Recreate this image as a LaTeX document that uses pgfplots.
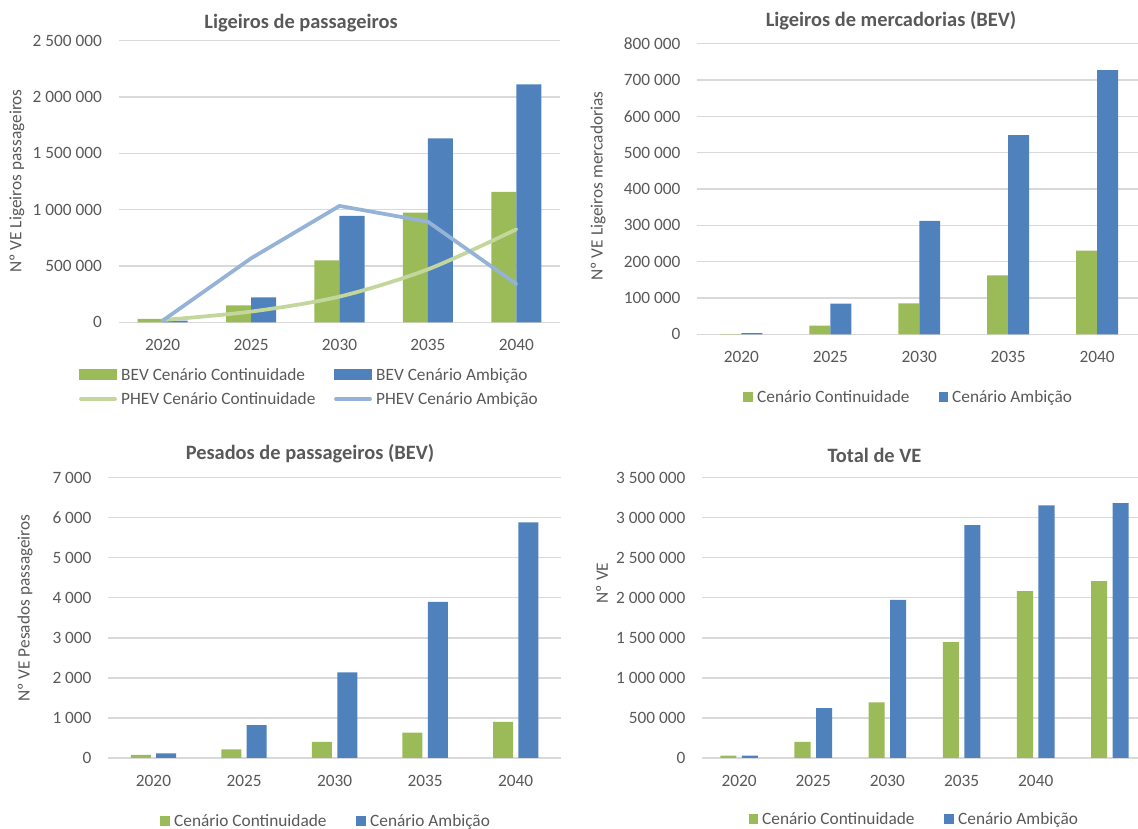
\documentclass[border=0pt]{standalone}
\usepackage{fontspec}
\setmainfont{Carlito}
\usepackage{pgfplots}
\pgfplotsset{compat=1.18}
\definecolor{txt}{HTML}{595959}
\definecolor{gridc}{HTML}{D9D9D9}
\definecolor{bgreen}{HTML}{9BBB59}
\definecolor{bblue}{HTML}{4F81BD}
\definecolor{lgreen}{HTML}{C3D69B}
\definecolor{lblue}{HTML}{95B3D7}
\newcommand{\fs}{\fontsize{17.3}{20}\selectfont}
\newcommand{\ft}{\fontsize{20.4}{24}\selectfont\bfseries}
\pgfplotsset{
  evstyle/.style={
    scale only axis,
    axis line style={draw=none},
    ymajorgrids, grid style={gridc, line width=1.3pt},
    tick style={draw=none},
    ymin=0, xmin=-0.5,
    tick label style={font=\fs, text=txt},
    yticklabel style={anchor=east, inner sep=0pt, xshift=-16.5pt},
    xticklabel style={anchor=base, inner sep=0pt, yshift=-28.5pt},
    scaled y ticks=false,
    yticklabel={\pgfmathprintnumber[fixed,1000 sep={\ },assume math mode=true]{\tick}},
    title style={font=\ft, text=txt, anchor=center},
    ylabel style={font=\fs, text=txt, anchor=center},
  },
}
\begin{document}
\begin{tikzpicture}
\useasboundingbox (0pt,0pt) rectangle (1138pt,829pt);

% ---------- Ligeiros de passageiros ----------
\begin{axis}[evstyle, at={(118.5pt,506.7pt)}, anchor=south west,
  width=442pt, height=281.6pt, xmax=4.5, ymax=2500000,
  ytick={0,500000,1000000,1500000,2000000,2500000},
  xtick={0,1,2,3,4}, xticklabels={2020,2025,2030,2035,2040},
  title={Ligeiros de passageiros},
  title style={at={(axis description cs:0.413,1.0398)}},
  ylabel={Nº VE Ligeiros passageiros},
  ylabel style={at={(axis description cs:-0.2296,0.5018)}}]
\addplot[ybar, fill=bgreen, draw=none, bar width=0.283, bar shift=-0.1415]
  coordinates {(0,30000) (1,151000) (2,550000) (3,973000) (4,1157000)};
\addplot[ybar, fill=bblue, draw=none, bar width=0.283, bar shift=0.1415]
  coordinates {(0,15000) (1,222000) (2,944000) (3,1633000) (4,2112000)};
\addplot[lgreen, line width=3.75pt, smooth, line cap=round]
  coordinates {(0,20000) (1,95000) (2,228000) (3,470000) (4,825000)};
\addplot[lblue, line width=3.75pt, line join=round, line cap=round]
  coordinates {(0,15000) (1,568000) (2,1033000) (3,893000) (4,340000)};
\end{axis}

% ---------- Ligeiros de mercadorias ----------
\begin{axis}[evstyle, at={(697pt,494.7pt)}, anchor=south west,
  width=444.5pt, height=290.6pt, xmax=4.5, ymax=800000,
  ytick={0,100000,...,800000},
  xtick={0,1,2,3,4}, xticklabels={2020,2025,2030,2035,2040},
  title={Ligeiros de mercadorias (BEV)},
  title style={at={(axis description cs:0.4364,1.0575)}},
  ylabel={Nº VE Ligeiros mercadorias},
  ylabel style={at={(axis description cs:-0.2227,0.5103)}}]
\addplot[ybar, fill=bgreen, draw=none, bar width=0.236, bar shift=-0.118]
  coordinates {(0,800) (1,23900) (2,85300) (3,162000) (4,230000)};
\addplot[ybar, fill=bblue, draw=none, bar width=0.236, bar shift=0.118]
  coordinates {(0,3000) (1,84400) (2,312000) (3,548000) (4,727000)};
\end{axis}

% ---------- Pesados de passageiros ----------
\begin{axis}[evstyle, at={(108.2pt,71pt)}, anchor=south west,
  width=452.8pt, height=280.3pt, xmax=4.5, ymax=7000,
  ytick={0,1000,...,7000},
  xtick={0,1,2,3,4}, xticklabels={2020,2025,2030,2035,2040},
  title={Pesados de passageiros (BEV)},
  title style={at={(axis description cs:0.4457,1.065)}},
  ylabel={Nº VE Pesados passageiros},
  ylabel style={at={(axis description cs:-0.1837,0.5351)}}]
\addplot[ybar, fill=bgreen, draw=none, bar width=0.221, bar shift=-0.14]
  coordinates {(0,75) (1,216) (2,400) (3,633) (4,899)};
\addplot[ybar, fill=bblue, draw=none, bar width=0.221, bar shift=0.14]
  coordinates {(0,117) (1,824) (2,2140) (3,3897) (4,5887)};
\end{axis}

% ---------- Total de VE ----------
\begin{axis}[evstyle, at={(702pt,71pt)}, anchor=south west,
  width=445pt, height=280.3pt, xmax=5.5, ymax=3500000,
  ytick={0,500000,1000000,1500000,2000000,2500000,3000000,3500000},
  xtick={0,1,2,3,4}, xticklabels={2020,2025,2030,2035,2040},
  title={Total de VE},
  title style={at={(axis description cs:0.3876,1.0596)}},
  ylabel={Nº VE},
  ylabel style={at={(axis description cs:-0.2247,0.6243)}}]
\addplot[ybar, fill=bgreen, draw=none, bar width=0.216, bar shift=-0.145]
  coordinates {(0,29000) (1,200000) (2,695000) (3,1448000) (4,2085000) (5,2210000)};
\addplot[ybar, fill=bblue, draw=none, bar width=0.216, bar shift=0.145]
  coordinates {(0,29000) (1,624000) (2,1973000) (3,2909000) (4,3154000) (5,3184000)};
\end{axis}

% ---------- legends ----------
\begin{scope}[x=1pt,y=1pt]
\tikzset{lt/.style={anchor=base west, inner sep=0pt, font=\fs, text=txt}}
% top-left
\fill[bgreen] (79,448.5) rectangle (117,459.5);
\node[lt] at (121,448.4) {BEV Cenário Continuidade};
\fill[bblue] (334,448.5) rectangle (372,459.5);
\node[lt] at (376,448.4) {BEV Cenário Ambição};
\draw[lgreen, line width=3.75pt, line cap=round] (81,430) -- (115,430);
\node[lt] at (121,424.4) {PHEV Cenário Continuidade};
\draw[lblue, line width=3.75pt, line cap=round] (336,430) -- (370,430);
\node[lt] at (376,424.4) {PHEV Cenário Ambição};
% top-right
\fill[bgreen] (743,427) rectangle (753,437);
\node[lt] at (757,426.4) {Cenário Continuidade};
\fill[bblue] (938.5,427) rectangle (948,437);
\node[lt] at (952,426.4) {Cenário Ambição};
% bottom-left
\fill[bgreen] (160,3.3) rectangle (170,13.3);
\node[lt] at (174,2.7) {Cenário Continuidade};
\fill[bblue] (355.6,3.3) rectangle (365.5,13.3);
\node[lt] at (370,2.7) {Cenário Ambição};
% bottom-right
\fill[bgreen] (748.6,5) rectangle (757.7,15);
\node[lt] at (762,4.4) {Cenário Continuidade};
\fill[bblue] (944,5) rectangle (953.5,15);
\node[lt] at (958,4.4) {Cenário Ambição};
\end{scope}
\end{tikzpicture}
\end{document}
